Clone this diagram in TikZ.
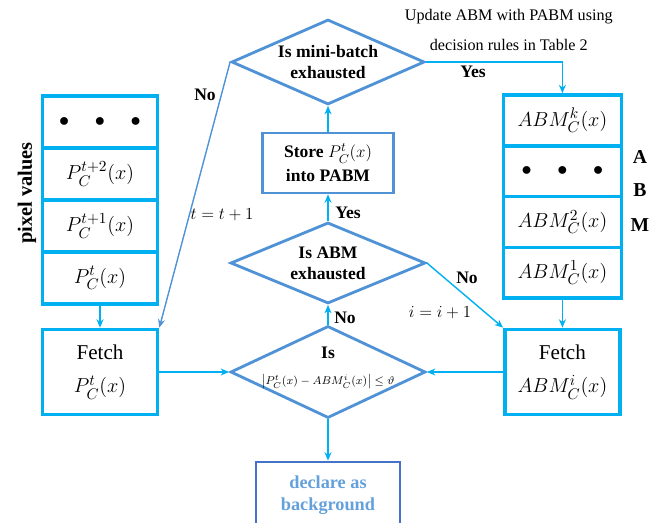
\documentclass[tikz,border=0pt]{standalone}
\usepackage{fontspec}
\setmainfont{Liberation Serif}
\usepackage{amsmath}
\usepackage{amssymb}
\usetikzlibrary{shapes.geometric,arrows.meta}
\definecolor{cellcyan}{RGB}{0,176,240}
\definecolor{dialine}{RGB}{79,146,214}
\definecolor{declline}{RGB}{68,114,196}
\definecolor{decltext}{RGB}{100,160,220}

\begin{document}
\begin{tikzpicture} [scale = 1,
  cell/.style = {draw = cellcyan, line width = 2.6pt, minimum height = 1.3cm, inner sep = 0pt, font = \fontsize{15}{18}\selectfont},
  lcell/.style = {cell, minimum width = 2.875cm},
  rcell/.style = {cell, minimum width = 2.95cm, minimum height = 1.27cm},
  fetchbox/.style = {cell, minimum width = 2.875cm, minimum height = 2.125cm, align = center},
  decision/.style = {diamond, draw = dialine, line width = 2pt, inner sep = 0pt},
  dtext/.style = {align = center, font = \fontsize{12.5}{15}\selectfont\bfseries},
  flow/.style = {draw = cellcyan, line width = 1pt, -{Stealth[length = 6pt, width = 5pt]}},
  lbl/.style = {font = \fontsize{12.5}{15}\selectfont\bfseries},
  eqn/.style = {font = \fontsize{12.5}{15}\selectfont}]
\useasboundingbox (0.0, 0.0) rectangle (16.55, 13.05);
\node[lcell] (ldots) at (2.5, 10.0){$\bullet\quad\bullet\quad\bullet$};
\node[lcell] (lp2) at (2.5, 8.7){$P_{C}^{t+2}(x)$};
\node[lcell] (lp1) at (2.5, 7.4){$P_{C}^{t+1}(x)$};
\node[lcell] (lp0) at (2.5, 6.1){$P_{C}^{t}(x)$};
\node[rcell] (rk) at (14.06, 10.04){$ABM_{C}^{k}(x)$};
\node[rcell] (rdots) at (14.06, 8.77){$\bullet\quad\bullet\quad\bullet$};
\node[rcell] (r2) at (14.06, 7.5){$ABM_{C}^{2}(x)$};
\node[rcell] (r1) at (14.06, 6.23){$ABM_{C}^{1}(x)$};
\node[fetchbox] (lfetch) at (2.5, 3.75){Fetch\\[6pt]$P_{C}^{t}(x)$};
\node[fetchbox] (rfetch) at (14.06, 3.75){Fetch\\[6pt]$ABM_{C}^{i}(x)$};
\node[decision, minimum width = 4.825cm, minimum height = 2.125cm] (batch) at (8.2, 11.5){};
\node[dtext] (batchtxt) at (batch){Is mini-batch\\exhausted};
\node[draw = dialine, line width = 2pt, minimum width = 3.275cm, minimum height = 1.5cm, align = center, lbl] (store) at (8.2, 8.975){Store {\mdseries$P_{C}^{t}(x)$}\\[2pt]into PABM};
\node[decision, minimum width = 4.875cm, minimum height = 2.025cm] (abm) at (8.2, 6.475){};
\node[dtext] (abmtxt) at (abm){Is ABM\\exhausted};
\node[decision, minimum width = 4.875cm, minimum height = 2.3cm] (cmp) at (8.2, 3.75){};
\node[dtext] (cmptxt) at (8.2, 3.85){Is\\[3pt]{\mdseries\fontsize{8.5}{10}\selectfont$\left|P_{C}^{t}(x) - ABM_{C}^{i}(x)\right| \le \vartheta$}};
\node[draw = declline, line width = 2pt, minimum width = 3.6cm, minimum height = 1.65cm, align = center, text = decltext, font = \fontsize{13}{16}\selectfont\bfseries] (bg) at (8.2, 0.675){declare as\\background};
\node[rotate = 90, font = \fontsize{14.5}{17}\selectfont\bfseries] (pix) at (0.675, 8.225){pixel values};
\node[font = \fontsize{14}{17}\selectfont\bfseries] (la) at (16.0, 9.125){A};
\node[font = \fontsize{14}{17}\selectfont\bfseries] (lb) at (16.0, 8.3){B};
\node[font = \fontsize{14}{17}\selectfont\bfseries] (lm) at (16.0, 7.425){M};
\node[align = center, font = \fontsize{11.5}{21}\selectfont] (upd) at (12.72, 12.3){Update ABM with PABM using\\decision rules in Table 2};
\draw[flow] (lp0.south) -- (lfetch.north);
\draw[flow] (r1.south) -- (rfetch.north);
\draw[flow] (batch.east) -| (rk.north);
\draw[flow, draw = dialine] (batch.west) -- (lfetch.north east);
\draw[flow] (abm.east) -- (rfetch.north west);
\draw[flow] (lfetch.east) -- (cmp.west);
\draw[flow] (rfetch.west) -- (cmp.east);
\draw[flow] (cmp.north) -- (abm.south);
\draw[flow] (abm.north) -- (store.south);
\draw[flow] (store.north) -- (batch.south);
\draw[flow] (cmp.south) -- (bg.north);
\node[lbl] (yes1) at (11.825, 11.25){Yes};
\node[lbl] (no1) at (5.125, 10.675){No};
\node[eqn] (tinc) at (5.55, 7.675){$t = t+1$};
\node[lbl] (yes2) at (8.7, 7.725){Yes};
\node[lbl] (no2) at (8.625, 5.1){No};
\node[lbl] (no3) at (11.675, 6.1){No};
\node[eqn] (iinc) at (11.0, 5.225){$i = i+1$};
\end{tikzpicture}
\end{document}
